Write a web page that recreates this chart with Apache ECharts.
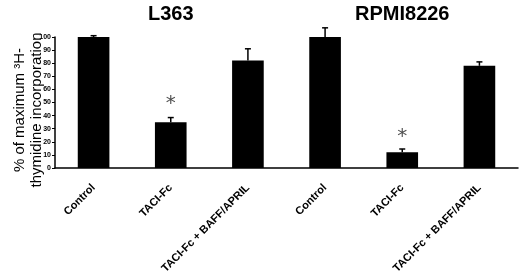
<!DOCTYPE html>
<html>
<head>
<meta charset="utf-8">
<script src="https://cdn.jsdelivr.net/npm/echarts@6/dist/echarts.min.js"></script>
<style>
  html, body { margin: 0; padding: 0; background: #fff; }
  #chart { width: 520px; height: 280px; }
</style>
</head>
<body>
<div id="chart"></div>
<script>
// cell lines and treatments
var groups = ['L363', 'RPMI8226'];
var treatments = ['Control', 'TACI-Fc', 'TACI-Fc + BAFF/APRIL'];
var categories = treatments.concat(treatments);
var yTitle = '% of maximum \u00b3H-\nthymidine incorporation';

// % of maximum 3H-thymidine incorporation
var values = [100, 35, 82, 100, 12, 78];
var errors = [1, 3.5, 9, 7, 2.5, 3];
// significance stars: [category index, height]
var stars = [[1, 49], [4, 24]];
var yTicks = [0, 10, 20, 30, 40, 50, 60, 70, 80, 90, 100];

var font = 'Liberation Sans';
var dom = document.getElementById('chart');
var myChart = echarts.init(dom);

function renderError(params, api) {
    var x = api.value(0);
    var v = api.value(1);
    var e = api.value(2);
    var bottom = api.coord([x, v]);
    var top = api.coord([x, v + e]);
    var half = 3;
    return {
        type: 'group',
        children: [{
            type: 'line',
            shape: { x1: bottom[0], y1: bottom[1], x2: top[0], y2: top[1] },
            style: { stroke: '#000', lineWidth: 1.5 }
        }, {
            type: 'line',
            shape: { x1: top[0] - half, y1: top[1], x2: top[0] + half, y2: top[1] },
            style: { stroke: '#000', lineWidth: 1.5 }
        }]
    };
}

var option = {
    animation: false,
    grid: { left: 55, right: 2, top: 37, bottom: 112, containLabel: false, outerBoundsMode: 'none' },
    xAxis: {
        type: 'category',
        data: categories,
        axisLine: { lineStyle: { color: '#000', width: 1.5 } },
        axisTick: { show: false },
        axisLabel: {
            rotate: 45,
            interval: 0,
            margin: 18,
            color: '#000',
            fontFamily: font,
            fontWeight: 'bold',
            fontSize: 11
        }
    },
    yAxis: {
        type: 'value',
        min: 0,
        max: 100,
        interval: 10,
        axisLine: { show: true, lineStyle: { color: '#000', width: 1.5 } },
        axisTick: { show: true, length: 3, lineStyle: { color: '#000' } },
        splitLine: { show: false },
        axisLabel: {
            color: '#000',
            fontFamily: font,
            fontWeight: 'bold',
            fontSize: 7,
            margin: 4,
            formatter: function (v) { return yTicks.indexOf(v) >= 0 ? String(v) : ''; }
        }
    },
    series: [{
        type: 'bar',
        data: values,
        barWidth: '41%',
        itemStyle: { color: '#000' }
    }, {
        type: 'custom',
        renderItem: renderError,
        clip: false,
        data: values.map(function (v, i) { return [i, v, errors[i]]; }),
        encode: { x: 0, y: 1 },
        z: 3
    }, {
        type: 'scatter',
        symbolSize: 0,
        data: stars,
        label: {
            show: true,
            position: 'inside',
            formatter: '*',
            color: '#222',
            fontFamily: 'DejaVu Sans',
            fontSize: 20
        }
    }]
};

myChart.setOption(option);

// group titles centred over the middle bar of each group
var graphics = groups.map(function (g, i) {
    var px = myChart.convertToPixel({ xAxisIndex: 0 }, i * 3 + 1);
    return {
        type: 'text',
        x: px,
        y: 4,
        style: {
            text: g,
            align: 'center',
            verticalAlign: 'top',
            font: 'bold 20px "' + font + '"',
            fill: '#000'
        }
    };
});
// y axis title, two rotated lines
graphics.push({
    type: 'text',
    x: 28,
    y: 110,
    rotation: Math.PI / 2,
    style: {
        text: yTitle,
        align: 'center',
        verticalAlign: 'middle',
        font: '15px "' + font + '"',
        lineHeight: 17,
        fill: '#000'
    }
});
myChart.setOption({ graphic: graphics });
</script>
</body>
</html>
